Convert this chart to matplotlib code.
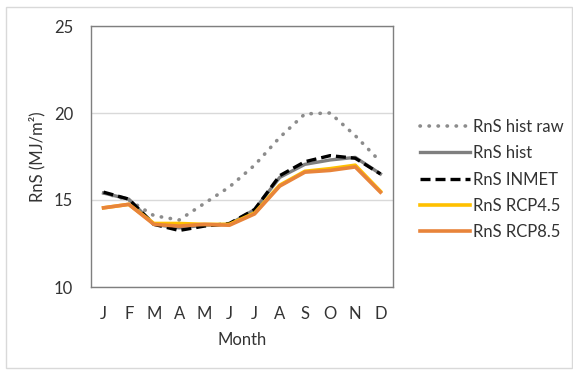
import matplotlib
matplotlib.use("Agg")
import matplotlib.pyplot as plt
from matplotlib.patches import Rectangle

months = ["J", "F", "M", "A", "M", "J", "J", "A", "S", "O", "N", "D"]
rns_hist_raw = [15.4, 15.0, 14.1, 13.85, 14.8, 15.75, 17.0, 18.6, 19.95, 20.0, 18.7, 17.2]
rns_hist = [15.4, 15.05, 13.6, 13.4, 13.55, 13.6, 14.45, 16.3, 17.05, 17.3, 17.45, 16.5]
rns_inmet = [15.45, 15.05, 13.6, 13.25, 13.5, 13.65, 14.45, 16.4, 17.2, 17.55, 17.4, 16.5]
rns_rcp45 = [14.55, 14.75, 13.65, 13.65, 13.6, 13.6, 14.25, 15.85, 16.65, 16.8, 17.0, 15.5]
rns_rcp85 = [14.55, 14.75, 13.6, 13.5, 13.6, 13.55, 14.2, 15.8, 16.6, 16.7, 16.9, 15.45]
yticks = [10, 15, 20, 25]

plt.rcParams['font.family'] = ['Lato', 'DejaVu Sans']
FS = 12

fig = plt.figure(figsize=(5.73, 3.70), dpi=100)
fig.patches.append(Rectangle((6/573, 0.005), 1 - 7/573, 1 - 7/370 - 0.005,
                             transform=fig.transFigure, fill=False,
                             edgecolor='#d9d9d9', linewidth=1.0))
ax = fig.add_axes([91/573, 1 - 287/370, (393 - 91)/573, (287 - 26)/370])

x = list(range(len(months)))
ax.plot(x, rns_hist_raw, color='#8c8c8c', linestyle=(0, (0.1, 2.4)), linewidth=2.6,
        dash_capstyle='round', label='RnS hist raw')
ax.plot(x, rns_hist, color='#7f7f7f', linewidth=2.4, label='RnS hist')
ax.plot(x, rns_inmet, color='black', linestyle=(0, (3, 1.5)), linewidth=2.4, label='RnS INMET')
ax.plot(x, rns_rcp45, color='#FFC000', linewidth=2.6, label='RnS RCP4.5')
ax.plot(x, rns_rcp85, color='#E8843A', linewidth=2.6, label='RnS RCP8.5')

ax.set_xlim(-0.5, len(months) - 0.5)
ax.set_ylim(10, 25)
ax.set_xticks(x)
ax.set_xticklabels(months)
ax.set_yticks(yticks)
ax.tick_params(axis='both', length=0, labelsize=FS)
ax.tick_params(axis='x', pad=14)
ax.tick_params(axis='y', pad=13)
for t in ax.get_xticklabels() + ax.get_yticklabels():
    t.set_color('#333333')
ax.grid(axis='y', color='#d9d9d9', linewidth=1.0)
ax.set_axisbelow(True)
for s in ax.spines.values():
    s.set_color('#7f7f7f')
    s.set_linewidth(1.0)

ax.set_xlabel('Month', fontsize=FS, color='#333333', labelpad=7)
ax.set_ylabel('RnS (MJ/m²)', fontsize=FS, color='#333333', labelpad=6)

leg = fig.legend(loc='upper left', bbox_to_anchor=(405/573, 1 - 104/370), frameon=False,
                 fontsize=FS, handlelength=3.0, handletextpad=0.2, labelspacing=0.62)
for t in leg.get_texts():
    t.set_color('#333333')

fig.savefig('out.png', dpi=100)
